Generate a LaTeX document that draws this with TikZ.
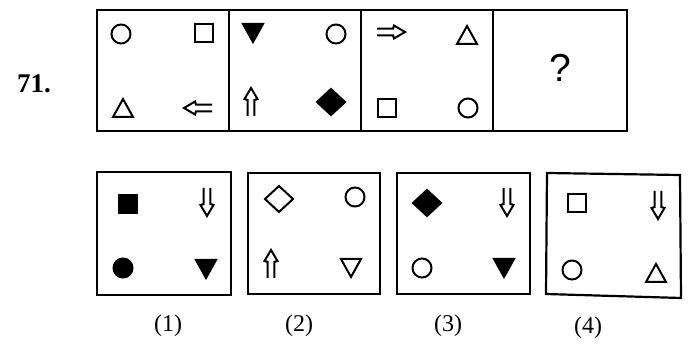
\documentclass[tikz,border=0pt]{standalone}
\usepackage{fontspec}
\setmainfont{Liberation Serif}
\newfontfamily\qfont{Liberation Sans}
\tikzset{
  circ/.pic={\path[pic actions] (0,0) circle[radius=9.5pt];},
  sq/.pic={\path[pic actions] (-9,-9) rectangle (9,9);},
  tri/.pic={\path[pic actions] (-10,9) -- (0,-9) -- (10,9) -- cycle;},
  dia/.pic={\path[pic actions] (-14,0) -- (0,-13) -- (14,0) -- (0,13) -- cycle;},
  harrow/.pic={\path[pic actions] (-3.3,14) -- (-3.3,-2) -- (-6.5,-3) -- (0,-14) -- (6.5,-3) -- (3.3,-2) -- (3.3,14);},
}
\begin{document}
\begin{tikzpicture}[x=1pt,y=-1pt,
  box/.style={draw=black,line width=2.2pt},
  sym/.style={draw=black,line width=2pt},
  solid/.style={sym,fill=black},
  lbl/.style={inner sep=0pt,font=\fontsize{24}{26}\selectfont}]
\useasboundingbox (0,0) rectangle (688,347);
% question number
\node[inner sep=0pt,font=\bfseries\fontsize{27}{29}\selectfont] (num) at (34,84) {71.};
% problem figures
\draw[box] (97,10) rectangle (627,131);
\draw[box] (229,10) -- (229,131);
\draw[box] (361,10) -- (361,131);
\draw[box] (493,10) -- (493,131);
% panel 1
\pic[sym] at (121,34) {circ};
\pic[sym] at (204,33) {sq};
\pic[sym] at (123,108) {tri};
\pic[sym,rotate=90] at (198,108) {harrow};
% panel 2
\pic[solid,rotate=180] at (253,33) {tri};
\pic[sym] at (336,34) {circ};
\pic[sym] at (251,102) {harrow};
\pic[solid] at (331,102) {dia};
% panel 3
\pic[sym,rotate=-90] at (391,32) {harrow};
\pic[sym] at (467,35) {tri};
\pic[sym] at (387,108) {sq};
\pic[sym] at (468,108) {circ};
% panel 4
\node[inner sep=0pt,font=\qfont\fontsize{39}{41}\selectfont] (q) at (560,68) {?};
% answer figures
\draw[box] (97,172) rectangle (231,295);
\draw[box] (248,173) rectangle (380,294);
\draw[box] (397,173) rectangle (530,294);
\draw[box] (547,173) -- (680,175) -- (681,298) -- (546,294) -- cycle;
% answer 1
\pic[solid] at (128,204) {sq};
\pic[sym,rotate=180] at (207,202) {harrow};
\pic[solid] at (123,268) {circ};
\pic[solid,rotate=180] at (206,269) {tri};
% answer 2
\pic[sym] at (279,199) {dia};
\pic[sym] at (355,197) {circ};
\pic[sym] at (271,264) {harrow};
\pic[sym,rotate=180] at (351,268) {tri};
% answer 3
\pic[solid] at (427,203) {dia};
\pic[sym,rotate=180] at (507,202) {harrow};
\pic[sym] at (422,268) {circ};
\pic[solid,rotate=180] at (504,268) {tri};
% answer 4
\pic[sym] at (577,203) {sq};
\pic[sym,rotate=180] at (658,205) {harrow};
\pic[sym] at (572,270) {circ};
\pic[sym] at (656,273) {tri};
% labels
\node[lbl] (l1) at (168,326) {(1)};
\node[lbl] (l2) at (299,326) {(2)};
\node[lbl] (l3) at (448,326) {(3)};
\node[lbl] (l4) at (588,328) {(4)};
\end{tikzpicture}
\end{document}
